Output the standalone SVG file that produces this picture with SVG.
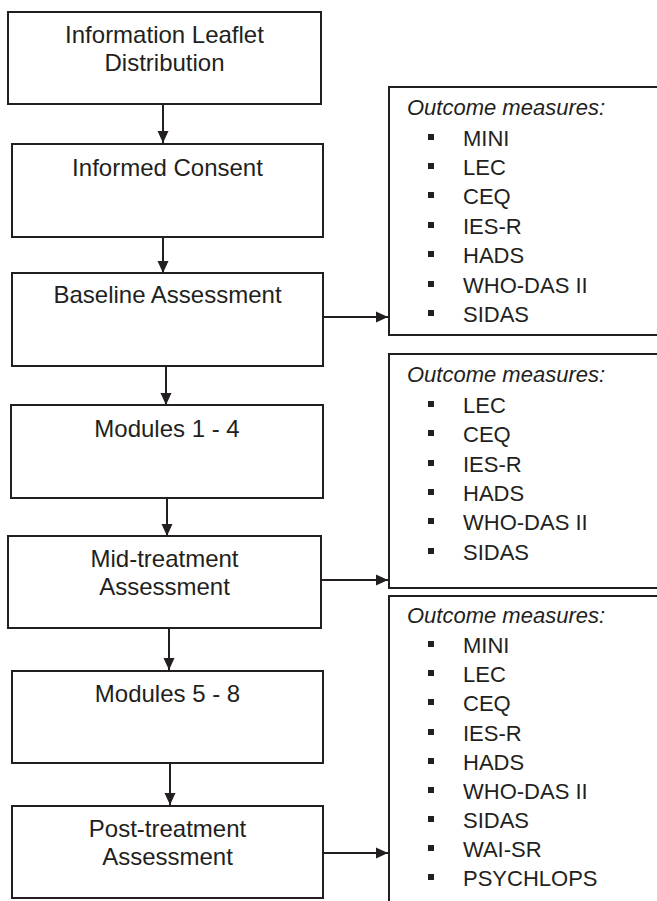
<svg xmlns="http://www.w3.org/2000/svg" width="657" height="901" viewBox="0 0 657 901">
<style>
.box{fill:#fff;stroke:#231f20;stroke-width:2}
.lbl{font-family:"Liberation Sans",Arial,sans-serif;font-size:24px;fill:#231f20;text-anchor:middle}
.hd{font-family:"Liberation Sans",Arial,sans-serif;font-size:22px;font-style:italic;fill:#231f20}
.it{font-family:"Liberation Sans",Arial,sans-serif;font-size:22px;fill:#231f20}
.conn{stroke:#231f20;stroke-width:2;fill:none;marker-end:url(#ah)}
.bul{fill:#231f20}
</style>
<defs>
<marker id="ah" viewBox="0 0 12 12" refX="12" refY="6" markerWidth="12" markerHeight="12" markerUnits="userSpaceOnUse" orient="auto">
<path d="M0,0.5 L12,6 L0,11.5 Z" fill="#231f20"/>
</marker>
</defs>
<rect width="657" height="901" fill="#fff"/>
<g id="connectors">
<line class="conn" x1="163" y1="104" x2="163" y2="143"/>
<line class="conn" x1="163" y1="237" x2="163" y2="273"/>
<line class="conn" x1="166" y1="366" x2="166" y2="405"/>
<line class="conn" x1="167" y1="498" x2="167" y2="536"/>
<line class="conn" x1="169" y1="628" x2="169" y2="670"/>
<line class="conn" x1="170" y1="763" x2="170" y2="805"/>
<line class="conn" x1="323" y1="317" x2="388" y2="317"/>
<line class="conn" x1="321" y1="580" x2="388" y2="580"/>
<line class="conn" x1="323" y1="853" x2="388" y2="853"/>
</g>
<g id="n1">
<rect class="box" x="8" y="12" width="313" height="92"/>
<text class="lbl" x="164.5" y="43">Information Leaflet</text>
<text class="lbl" x="164.5" y="71">Distribution</text>
</g>
<g id="n2">
<rect class="box" x="12" y="144" width="311" height="93"/>
<text class="lbl" x="167.5" y="176">Informed Consent</text>
</g>
<g id="n3">
<rect class="box" x="12" y="273" width="311" height="93"/>
<text class="lbl" x="167.5" y="303">Baseline Assessment</text>
</g>
<g id="n4">
<rect class="box" x="11" y="405" width="312" height="93"/>
<text class="lbl" x="167" y="437">Modules 1 - 4</text>
</g>
<g id="n5">
<rect class="box" x="8" y="536" width="313" height="92"/>
<text class="lbl" x="164.5" y="567">Mid-treatment</text>
<text class="lbl" x="164.5" y="595">Assessment</text>
</g>
<g id="n6">
<rect class="box" x="12" y="671" width="311" height="92"/>
<text class="lbl" x="167.5" y="702">Modules 5 - 8</text>
</g>
<g id="n7">
<rect class="box" x="12" y="806" width="311" height="92"/>
<text class="lbl" x="167.5" y="837">Post-treatment</text>
<text class="lbl" x="167.5" y="865">Assessment</text>
</g>
<g id="m1">
<rect class="box" x="389" y="87" width="300" height="248"/>
<text class="hd" x="407" y="115">Outcome measures:</text>
<rect class="bul" x="428" y="134" width="6" height="6"/><text class="it" x="463" y="146">MINI</text>
<rect class="bul" x="428" y="163" width="6" height="6"/><text class="it" x="463" y="175">LEC</text>
<rect class="bul" x="428" y="192" width="6" height="6"/><text class="it" x="463" y="204">CEQ</text>
<rect class="bul" x="428" y="222" width="6" height="6"/><text class="it" x="463" y="234">IES-R</text>
<rect class="bul" x="428" y="251" width="6" height="6"/><text class="it" x="463" y="263">HADS</text>
<rect class="bul" x="428" y="281" width="6" height="6"/><text class="it" x="463" y="293">WHO-DAS II</text>
<rect class="bul" x="428" y="310" width="6" height="6"/><text class="it" x="463" y="322">SIDAS</text>
</g>
<g id="m2">
<rect class="box" x="389" y="354" width="300" height="234"/>
<text class="hd" x="407" y="382">Outcome measures:</text>
<rect class="bul" x="428" y="401" width="6" height="6"/><text class="it" x="463" y="413">LEC</text>
<rect class="bul" x="428" y="430" width="6" height="6"/><text class="it" x="463" y="442">CEQ</text>
<rect class="bul" x="428" y="460" width="6" height="6"/><text class="it" x="463" y="472">IES-R</text>
<rect class="bul" x="428" y="489" width="6" height="6"/><text class="it" x="463" y="501">HADS</text>
<rect class="bul" x="428" y="518" width="6" height="6"/><text class="it" x="463" y="530">WHO-DAS II</text>
<rect class="bul" x="428" y="548" width="6" height="6"/><text class="it" x="463" y="560">SIDAS</text>
</g>
<g id="m3">
<rect class="box" x="389" y="596" width="300" height="330"/>
<text class="hd" x="407" y="623">Outcome measures:</text>
<rect class="bul" x="428" y="641" width="6" height="6"/><text class="it" x="463" y="653">MINI</text>
<rect class="bul" x="428" y="670" width="6" height="6"/><text class="it" x="463" y="682">LEC</text>
<rect class="bul" x="428" y="699" width="6" height="6"/><text class="it" x="463" y="711">CEQ</text>
<rect class="bul" x="428" y="729" width="6" height="6"/><text class="it" x="463" y="741">IES-R</text>
<rect class="bul" x="428" y="758" width="6" height="6"/><text class="it" x="463" y="770">HADS</text>
<rect class="bul" x="428" y="787" width="6" height="6"/><text class="it" x="463" y="799">WHO-DAS II</text>
<rect class="bul" x="428" y="816" width="6" height="6"/><text class="it" x="463" y="828">SIDAS</text>
<rect class="bul" x="428" y="845" width="6" height="6"/><text class="it" x="463" y="857">WAI-SR</text>
<rect class="bul" x="428" y="874" width="6" height="6"/><text class="it" x="463" y="886">PSYCHLOPS</text>
</g>
</svg>
